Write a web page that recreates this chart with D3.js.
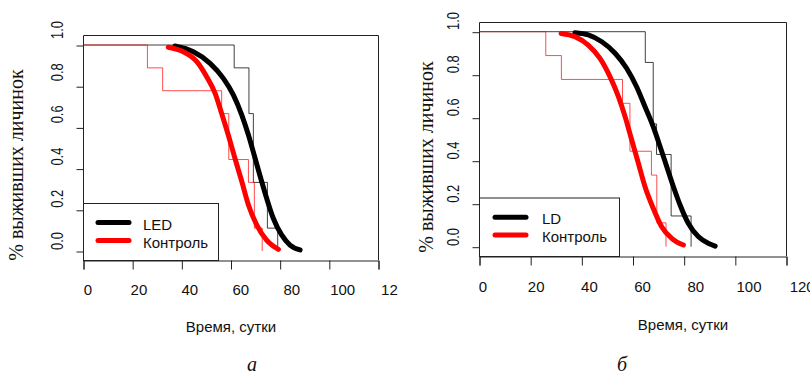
<!DOCTYPE html>
<html>
<head>
<meta charset="utf-8">
<script src="https://cdn.jsdelivr.net/npm/d3@7/dist/d3.min.js"></script>
<style>
  html, body { margin: 0; padding: 0; background: #fff; }
  svg { display: block; }
</style>
</head>
<body>
<svg id="chart" width="810" height="374"></svg>
<script>
// Axis ticks shared by both panels
const timeTicks = [0, 20, 40, 60, 80, 100, 120];
const survTicks = [0, 0.2, 0.4, 0.6, 0.8, 1.0];

// Panel "а": LED vs control
const namesA = ["LED", "Контроль"];
// Kaplan–Meier steps (time, surviving fraction)
const kmTimeA_led = [0, 61.5, 67.5, 69.3, 75.0, 79.2];
const kmSurvA_led = [1, 0.889, 0.667, 0.333, 0.111, 0];
const kmTimeA_ctl = [0, 26.2, 32.4, 56.4, 59.3, 67.3, 69.7, 72.9];
const kmSurvA_ctl = [1, 0.889, 0.778, 0.667, 0.444, 0.333, 0.111, 0];
// Fitted survival curves
const fitTimeA_led = [37.4, 44.9, 51.7, 57.1, 61.2, 64.6, 67.3, 70.0, 72.3, 74.7, 77.4, 80.8, 84.2, 88.3];
const fitSurvA_led = [0.995, 0.967, 0.911, 0.838, 0.757, 0.660, 0.563, 0.450, 0.353, 0.256, 0.159, 0.078, 0.029, 0.005];
const fitTimeA_ctl = [34.7, 40.8, 46.3, 50.3, 53.7, 56.4, 59.1, 61.8, 64.6, 67.3, 70.7, 74.7, 79.5];
const fitSurvA_ctl = [0.989, 0.967, 0.919, 0.846, 0.766, 0.668, 0.563, 0.450, 0.337, 0.223, 0.126, 0.053, 0.008];

// Panel "б": LD vs control
const namesB = ["LD", "Контроль"];
const kmTimeB_ld = [0, 65.0, 68.1, 69.4, 75.1, 82.9];
const kmSurvB_ld = [1, 0.857, 0.571, 0.429, 0.143, 0];
const kmTimeB_ctl = [0, 26.1, 32.2, 56.1, 59.0, 67.4, 69.5, 73.1];
const kmSurvB_ctl = [1, 0.889, 0.778, 0.667, 0.444, 0.333, 0.111, 0];
const fitTimeB_ld = [37.5, 42.7, 48.0, 53.2, 57.7, 61.6, 64.9, 68.1, 70.8, 73.4, 76.0, 78.6, 81.8, 85.7, 89.6, 92.3];
const fitSurvB_ld = [0.995, 0.985, 0.953, 0.900, 0.830, 0.744, 0.651, 0.558, 0.465, 0.372, 0.279, 0.194, 0.109, 0.047, 0.016, 0.003];
const fitTimeB_ctl = [32.1, 37.5, 42.7, 47.3, 51.2, 54.5, 57.1, 59.7, 62.3, 64.9, 68.1, 71.4, 75.3, 79.9];
const fitSurvB_ctl = [0.992, 0.977, 0.938, 0.876, 0.791, 0.698, 0.605, 0.496, 0.388, 0.279, 0.179, 0.093, 0.039, 0.008];

const xTitle = "Время, сутки";
const yTitle = "% выживших личинок";
const panelLetters = ["а", "б"];

const zip = (t, s) => t.map((v, i) => [v, s[i]]);

const svg = d3.select("#chart");
const defs = svg.append("defs");

function drawPanel(p) {
  const clipId = "clip-" + p.id;
  defs.append("clipPath").attr("id", clipId)
    .append("rect").attr("x", p.clipX0).attr("y", 0)
    .attr("width", p.clipX1 - p.clipX0).attr("height", 374);

  const g = svg.append("g").attr("clip-path", `url(#${clipId})`);

  const x = d3.scaleLinear().domain([0, 120]).range([p.x0, p.x1]);
  const y = d3.scaleLinear().domain([0, 1]).range([p.y0, p.y1]);
  // tick label placement (labels sit slightly apart from their ticks)
  const xl = d3.scaleLinear().domain([0, 100]).range(p.xLab);
  const yl = d3.scaleLinear().domain([0, 1]).range(p.yLab);

  // plot frame (top, left, right) and x axis line
  g.append("path")
    .attr("d", `M${p.x0 + 0.5},${p.boxBottom}V${p.boxTop + 0.5}H${p.x1 + 0.5}V${p.boxBottom}`)
    .attr("fill", "none").attr("stroke", "#222").attr("stroke-width", 1);

  // x axis ticks
  const xAxis = d3.axisBottom(x).tickValues(timeTicks).tickSize(9).tickFormat("");
  g.append("g").attr("transform", `translate(0.5,${p.boxBottom + 0.5})`).call(xAxis)
    .call(a => a.selectAll("path,line").attr("stroke", "#222"));

  // y axis ticks
  const yAxis = d3.axisLeft(y).tickValues(survTicks).tickSize(7).tickFormat("").tickSizeOuter(0);
  g.append("g").attr("transform", `translate(${p.x0 + 0.5},0.5)`).call(yAxis)
    .call(a => a.select(".domain").remove())
    .call(a => a.selectAll("line").attr("stroke", "#222"));

  // tick labels
  g.selectAll("text.xt").data(timeTicks).enter().append("text")
    .attr("x", d => xl(d)).attr("y", p.xLabY)
    .attr("text-anchor", "middle")
    .style("font-family", "'Liberation Sans', Arial, sans-serif").style("font-size", "15px")
    .attr("fill", "#111").text(d => d);

  g.selectAll("text.yt").data(survTicks).enter().append("text")
    .attr("transform", d => `translate(${p.yLabX},${yl(d)}) rotate(-90) scale(0.92,1.18)`)
    .attr("text-anchor", "middle")
    .style("font-family", "'Liberation Sans', Arial, sans-serif").style("font-size", "14px")
    .attr("fill", "#111").text(d => d.toFixed(1));

  // Kaplan–Meier steps
  const step = d3.line().x(d => x(d[0])).y(d => y(d[1])).curve(d3.curveStepAfter);
  g.append("path").datum(zip(p.km1t, p.km1s)).attr("d", step)
    .attr("fill", "none").attr("stroke", "#000").attr("stroke-opacity", 0.75).attr("stroke-width", 1);
  g.append("path").datum(zip(p.km2t, p.km2s)).attr("d", step)
    .attr("fill", "none").attr("stroke", "#ff0000").attr("stroke-opacity", 0.7).attr("stroke-width", 1);

  // fitted curves
  const smooth = d3.line().x(d => x(d[0])).y(d => y(d[1])).curve(d3.curveMonotoneX);
  g.append("path").datum(zip(p.fit1t, p.fit1s)).attr("d", smooth)
    .attr("fill", "none").attr("stroke", "#000").attr("stroke-width", 5)
    .attr("stroke-linecap", "round").attr("stroke-linejoin", "round");
  g.append("path").datum(zip(p.fit2t, p.fit2s)).attr("d", smooth)
    .attr("fill", "none").attr("stroke", "#ff0000").attr("stroke-width", 5)
    .attr("stroke-linecap", "round").attr("stroke-linejoin", "round");

  // legend
  const lg = g.append("g");
  lg.append("rect")
    .attr("x", p.x0 + 0.5).attr("y", p.legTop + 0.5)
    .attr("width", p.legRight - p.x0).attr("height", p.boxBottom - p.legTop)
    .attr("fill", "#fff").attr("stroke", "#222").attr("stroke-width", 1);
  const legColors = ["#000", "#ff0000"];
  p.names.forEach((name, i) => {
    lg.append("line")
      .attr("x1", p.legLineX0).attr("x2", p.legLineX1)
      .attr("y1", p.legRowY[i]).attr("y2", p.legRowY[i])
      .attr("stroke", legColors[i]).attr("stroke-width", 5).attr("stroke-linecap", "round");
    lg.append("text")
      .attr("x", p.legTextX).attr("y", p.legRowY[i] + 7)
      .style("font-family", "'Liberation Sans', Arial, sans-serif").style("font-size", "15px")
      .attr("fill", "#111").text(name);
  });

  // axis titles
  g.append("text")
    .attr("x", p.xTitleX).attr("y", p.xTitleY).attr("text-anchor", "middle")
    .style("font-family", "'Liberation Sans', Arial, sans-serif").style("font-size", "15px")
    .attr("fill", "#111").text(xTitle);
  g.append("text")
    .attr("transform", `translate(${p.yTitleX},${p.yTitleY}) rotate(-90)`)
    .attr("text-anchor", "middle")
    .style("font-family", "'Liberation Serif', 'Times New Roman', serif").style("font-size", "20px")
    .attr("fill", "#111").text(yTitle);

  // panel letter
  g.append("text")
    .attr("x", p.letterX).attr("y", 371).attr("text-anchor", "middle")
    .style("font-family", "'Liberation Serif', 'Times New Roman', serif")
    .style("font-size", "20px").style("font-style", "italic")
    .attr("fill", "#111").text(p.letter);
}

drawPanel({
  id: "a", clipX0: 0, clipX1: 398,
  x0: 83, x1: 378, y0: 251, y1: 45, boxTop: 35, boxBottom: 260,
  xLab: [88, 342.7], xLabY: 295, yLab: [241, 30], yLabX: 63,
  km1t: kmTimeA_led, km1s: kmSurvA_led, km2t: kmTimeA_ctl, km2s: kmSurvA_ctl,
  fit1t: fitTimeA_led, fit1s: fitSurvA_led, fit2t: fitTimeA_ctl, fit2s: fitSurvA_ctl,
  names: namesA, legTop: 203, legRight: 218, legLineX0: 98, legLineX1: 129,
  legRowY: [222.5, 240.5], legTextX: 143,
  xTitleX: 231, xTitleY: 332, yTitleX: 23, yTitleY: 165,
  letter: panelLetters[0], letterX: 252
});

drawPanel({
  id: "b", clipX0: 398, clipX1: 810,
  x0: 479, x1: 786, y0: 246.7, y1: 31.7, boxTop: 22, boxBottom: 256,
  xLab: [483, 749], xLabY: 292, yLab: [237, 21], yLabX: 459,
  km1t: kmTimeB_ld, km1s: kmSurvB_ld, km2t: kmTimeB_ctl, km2s: kmSurvB_ctl,
  fit1t: fitTimeB_ld, fit1s: fitSurvB_ld, fit2t: fitTimeB_ctl, fit2s: fitSurvB_ctl,
  names: namesB, legTop: 197.5, legRight: 619, legLineX0: 495, legLineX1: 526,
  legRowY: [217.3, 235], legTextX: 542,
  xTitleX: 683, xTitleY: 330, yTitleX: 433, yTitleY: 157,
  letter: panelLetters[1], letterX: 622
});
</script>
</body>
</html>
